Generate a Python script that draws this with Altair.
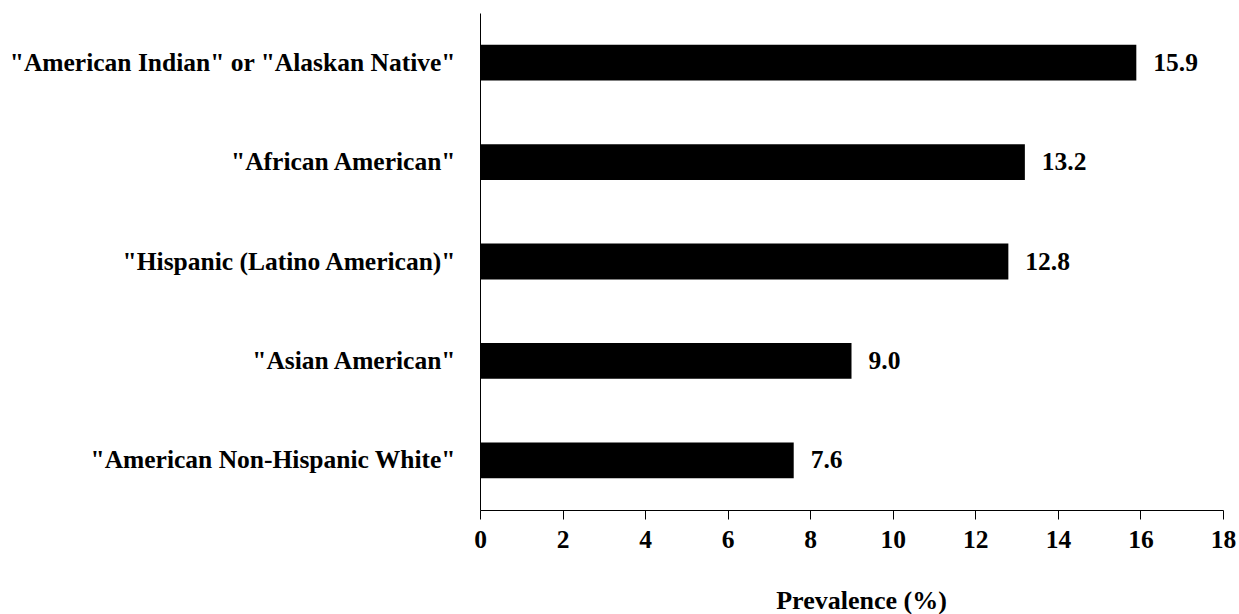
import altair as alt
import pandas as pd

# Prevalence by group, top to bottom
groups = [
    '"American Indian" or "Alaskan Native"',
    '"African American"',
    '"Hispanic (Latino American)"',
    '"Asian American"',
    '"American Non-Hispanic White"',
]
prevalence = [15.9, 13.2, 12.8, 9.0, 7.6]
x_ticks = [0, 2, 4, 6, 8, 10, 12, 14, 16, 18]

df = pd.DataFrame({"group": groups, "prevalence": prevalence})

FONT = "Liberation Serif"

y_enc = alt.Y(
    "group:N",
    sort=None,
    title=None,
    scale=alt.Scale(paddingInner=0.64, paddingOuter=0.32),
    axis=alt.Axis(
        ticks=False,
        domainColor="black",
        domainWidth=1,
        labelFont=FONT,
        labelFontSize=25.5,
        labelFontWeight="bold",
        labelColor="black",
        labelPadding=25,
        labelLimit=0,
    ),
)

x_enc = alt.X(
    "prevalence:Q",
    title="Prevalence (%)",
    scale=alt.Scale(domain=[0, 18], nice=False),
    axis=alt.Axis(
        values=x_ticks,
        grid=False,
        domainColor="black",
        domainWidth=1,
        tickColor="black",
        tickSize=9,
        labelFlush=False,
        labelFont=FONT,
        labelFontSize=25.5,
        labelFontWeight="bold",
        labelColor="black",
        labelPadding=8,
        titleFont=FONT,
        titleFontSize=26,
        titleFontWeight="bold",
        titleColor="black",
        titlePadding=35,
        titleX=381,
    ),
)

bars = alt.Chart(df).mark_bar(color="black").encode(x=x_enc, y=y_enc)

labels = alt.Chart(df).mark_text(
    align="left",
    baseline="middle",
    dx=17,
    font=FONT,
    fontSize=25.5,
    fontWeight="bold",
    color="black",
).encode(
    x="prevalence:Q",
    y=alt.Y("group:N", sort=None),
    text=alt.Text("prevalence:Q", format=".1f"),
)

chart = (
    alt.layer(bars, labels)
    .properties(
        width=743,
        height=497,
        background="white",
        autosize=alt.AutoSizeParams(type="none"),
        padding={"left": 480, "top": 13, "right": 16, "bottom": 104},
    )
    .configure_view(strokeWidth=0, stroke="transparent")
)

chart.save("out.html", embed_options={"renderer": "svg", "actions": False})
